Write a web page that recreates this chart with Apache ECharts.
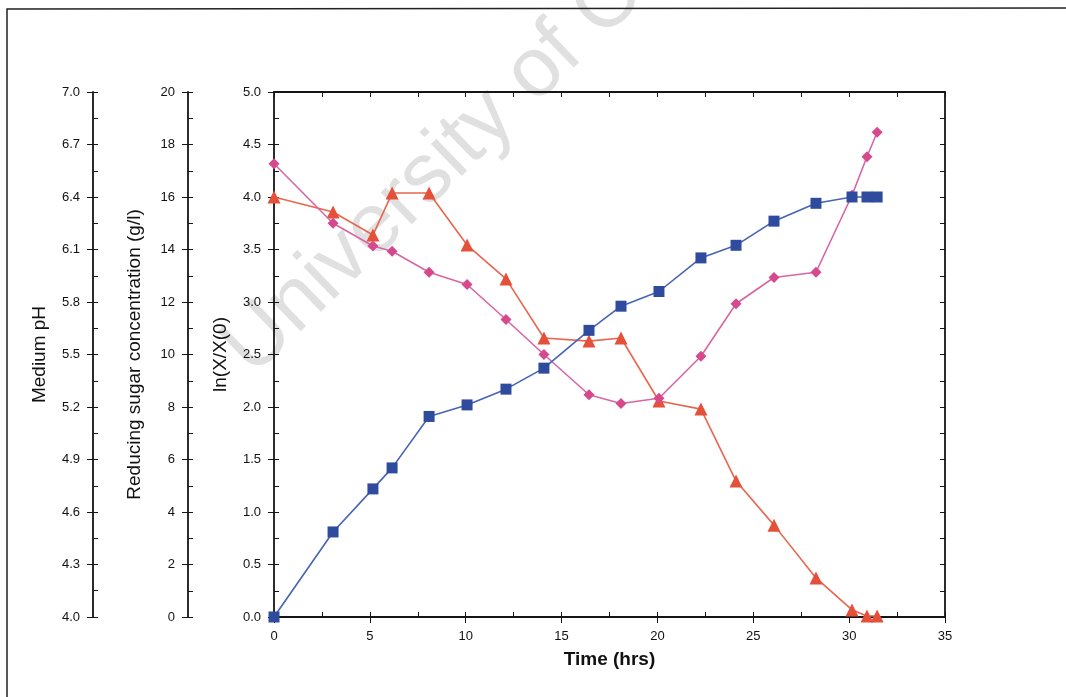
<!DOCTYPE html>
<html>
<head>
<meta charset="utf-8">
<script src="https://cdn.jsdelivr.net/npm/echarts@6/dist/echarts.min.js"></script>
<style>
  html, body { margin: 0; padding: 0; background: #fff; }
  #chart { width: 1066px; height: 697px; }
</style>
</head>
<body>
<div id="chart"></div>
<script>
// time points (hrs), shared by all three series
const times = [0, 3.08, 5.16, 6.16, 8.09, 10.07, 12.1, 14.08, 16.43, 18.1, 20.08, 22.27, 24.1, 26.08, 28.27, 30.15, 30.93, 31.46]
// ln(X/X(0)) - blue squares
const lnGrowth = [0, 0.81, 1.22, 1.42, 1.91, 2.02, 2.17, 2.37, 2.73, 2.96, 3.1, 3.42, 3.54, 3.77, 3.94, 4.0, 4.0, 4.0]
// reducing sugar (g/l) - red triangles
const sugar = [16.0, 15.43, 14.55, 16.15, 16.15, 14.17, 12.88, 10.63, 10.51, 10.63, 8.23, 7.92, 5.18, 3.5, 1.49, 0.27, 0.04, 0.04]
// medium pH - pink diamonds
const pH = [6.59, 6.25, 6.12, 6.09, 5.97, 5.9, 5.7, 5.5, 5.27, 5.22, 5.25, 5.49, 5.79, 5.94, 5.97, 6.41, 6.63, 6.77]

const font = "'Liberation Sans', Arial, sans-serif"
const ink = "#151515"

const pairs = vals => times.map((t, i) => [t, vals[i]])
const oneDecimal = v => v.toFixed(1)

// labelled axis with outward major ticks
function outerAxis(opts) {
  return Object.assign({
    type: "value",
    position: "left",
    axisLine: { show: true, onZero: false, lineStyle: { color: ink, width: 1.8 } },
    axisTick: { show: true, inside: false, length: 6, lineStyle: { color: ink, width: 1 } },
    axisLabel: { color: "#111", fontSize: 13, fontFamily: font, margin: 13 },
    splitLine: { show: false },
    nameLocation: "middle",
    nameGap: 44,
    nameTextStyle: { color: "#111", fontSize: 19, fontFamily: font }
  }, opts)
}

// unlabelled axis only used to draw the inward minor ticks
function innerTicks(opts) {
  return Object.assign({
    type: "value",
    position: "left",
    axisLine: { show: false, onZero: false },
    axisTick: { show: true, inside: true, length: 5, lineStyle: { color: ink, width: 1 } },
    axisLabel: { show: false },
    splitLine: { show: false }
  }, opts)
}

const chart = echarts.init(document.getElementById("chart"))

chart.setOption({
  animation: false,
  backgroundColor: "#fff",
  grid: { left: 274, right: 121, top: 92, bottom: 80, containLabel: false },
  graphic: [
    {
      type: "text",
      x: 266,
      y: 391,
      rotation: 44 * Math.PI / 180,
      z: -10,
      silent: true,
      style: {
        text: "University of Cape Town",
        fontSize: 84,
        fontFamily: font,
        fill: "#e0e0e0",
        align: "left",
        verticalAlign: "bottom"
      }
    },
    {
      type: "polyline",
      silent: true,
      shape: { points: [[7, 697], [7, 9], [1066, 8]] },
      style: { stroke: "#222", lineWidth: 1.5, fill: null }
    }
  ],
  xAxis: [
    outerAxis({
      position: "bottom",
      min: 0, max: 35, interval: 5,
      name: "Time (hrs)",
      nameGap: 33,
      nameTextStyle: { color: "#111", fontSize: 19, fontWeight: "bold", fontFamily: font },
      axisLabel: { color: "#111", fontSize: 13, fontFamily: font, margin: 13 }
    }),
    innerTicks({ position: "bottom", min: 0, max: 35, interval: 2.5 }),
    innerTicks({
      position: "top", min: 0, max: 35, interval: 2.5,
      axisLine: { show: true, onZero: false, lineStyle: { color: ink, width: 1.8 } }
    })
  ],
  yAxis: [
    outerAxis({
      min: 0, max: 5, interval: 0.5,
      name: "ln(X/X(0)",
      axisLabel: { color: "#111", fontSize: 13, fontFamily: font, margin: 13, formatter: oneDecimal }
    }),
    innerTicks({ min: 0, max: 5, interval: 0.25 }),
    innerTicks({
      position: "right", min: 0, max: 5, interval: 0.25,
      axisLine: { show: true, onZero: false, lineStyle: { color: ink, width: 1.8 } }
    }),
    outerAxis({
      offset: 86,
      min: 0, max: 20, interval: 2,
      name: "Reducing sugar concentration (g/l)"
    }),
    innerTicks({ offset: 86, min: 0, max: 20, interval: 1 }),
    outerAxis({
      offset: 181,
      min: 4, max: 7, interval: 0.3,
      name: "Medium pH",
      axisLabel: { color: "#111", fontSize: 13, fontFamily: font, margin: 13, formatter: oneDecimal }
    }),
    innerTicks({ offset: 181, min: 4, max: 7, interval: 0.15 })
  ],
  series: [
    {
      name: "Reducing sugar",
      type: "line",
      xAxisIndex: 0,
      yAxisIndex: 3,
      data: pairs(sugar),
      symbol: "triangle",
      symbolSize: 13,
      itemStyle: { color: "#e4503a" },
      lineStyle: { color: "#e8664e", width: 1.6 },
      z: 3
    },
    {
      name: "pH",
      type: "line",
      xAxisIndex: 0,
      yAxisIndex: 5,
      data: pairs(pH),
      symbol: "diamond",
      symbolSize: 11,
      itemStyle: { color: "#d6498c" },
      lineStyle: { color: "#d866a6", width: 1.6 },
      z: 4
    },
    {
      name: "ln(X/X0)",
      type: "line",
      xAxisIndex: 0,
      yAxisIndex: 0,
      data: pairs(lnGrowth),
      symbol: "rect",
      symbolSize: 11,
      itemStyle: { color: "#2f4b9e" },
      lineStyle: { color: "#4663b4", width: 1.6 },
      z: 5
    }
  ]
})
</script>
</body>
</html>
